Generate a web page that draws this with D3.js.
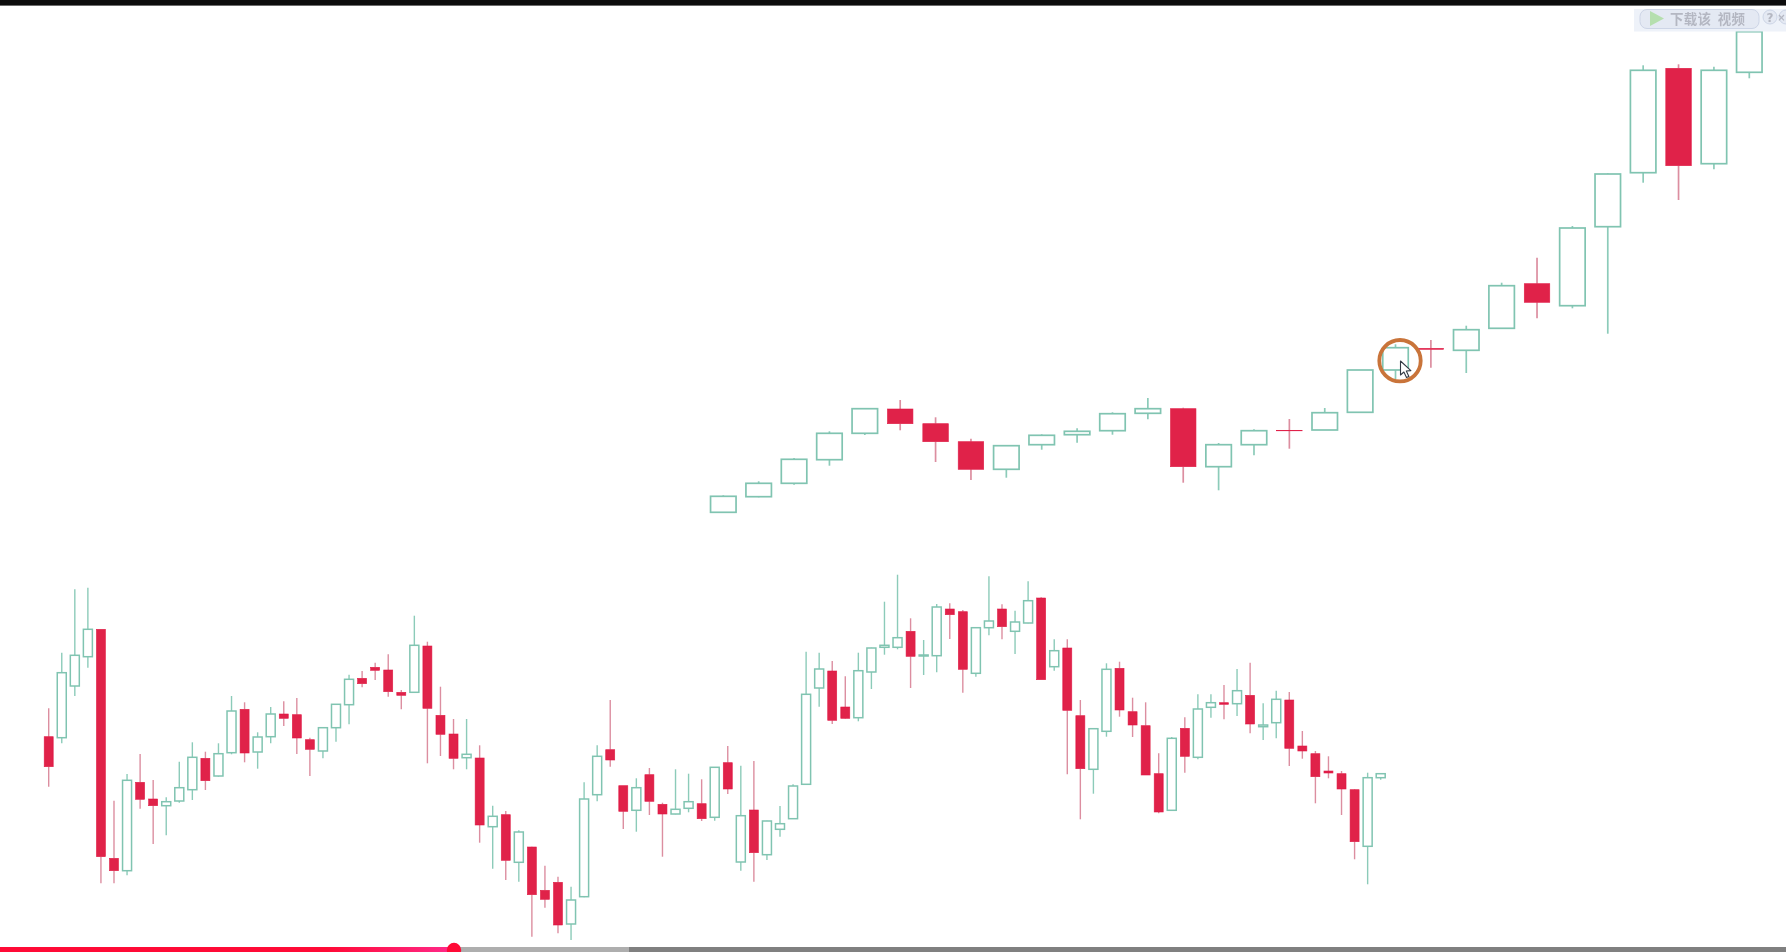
<!DOCTYPE html>
<html lang="zh">
<head>
<meta charset="utf-8">
<title>K线图</title>
<script src="https://cdn.jsdelivr.net/npm/d3@7/dist/d3.min.js"></script>
<style>
html,body{margin:0;padding:0;background:#fff;overflow:hidden}
svg{display:block}
</style>
</head>
<body>
<script>
// --- Lower candlestick series (g = hollow green, r = solid red) ---
const lowerKinds = "rgggrrgrrg" + "ggrggrggrr" + "rgggrrrrgr" + "rrgrgrgrrr" + "gggrrgrrgg" +
                   "rgrgrggggg" + "rrggggrggr" + "rggrggrgrr" + "ggrrrrgrgg" + "rgrggrrrrr" + "rgg";
const lowerHigh = [243.7,299.3,362.7,364.3,322.7,151.3,178,198,172,154.7,
  190.3,209.7,200.3,208.7,256,249.7,219.7,245,250.7,254,
  214.3,224.7,248,277.3,281,289.3,297.7,262,336.3,310.3,
  265.3,233,233,206.7,146.3,141,121.7,105.3,86.3,75.3,
  65.3,169.7,206.7,252,166.3,173.7,184,149.3,182.7,178.3,
  172.7,184.7,206,186.3,191,131.3,146,167.7,300.3,299.3,
  291,275.7,299.3,304.3,350.3,377.3,333.7,312,348,348.7,
  342,324.7,375.7,347.7,341.3,370.7,354.7,312.7,312.7,252,
  223.7,288.7,290.3,254.3,249.7,198.7,215,234.7,257.7,257.7,
  267,283,289.3,248.7,261.3,260,221,201,195.7,181,
  163,179.3,178.7];
const lowerBodyTop = [215.3,279.3,296.7,322.7,322.7,93.7,171.7,169.7,153,150.3,
  164.3,194.7,193.7,198.3,241,242.7,215,238,238,237.3,
  212.3,224.3,247.7,272.7,273.7,284.7,282,259.7,306.7,306,
  236.7,218,197.7,194,135.7,137.3,120,105,61.7,69.7,
  52,153,195.7,202.3,166.3,164.3,177.3,147.7,142.7,150.3,
  148.3,184.7,189.3,136.3,142,131,128.3,166,257.7,283,
  281,245,281.3,304,306.7,314.3,320.7,297,345,343,
  340.3,324.3,331,343,330,351.3,354,301.3,304,236.3,
  223.3,282.7,283.7,240.3,226.3,178.3,213.7,223.7,243,249.3,
  249.3,261.3,256.7,227,252.7,252,206,198.3,181,178.3,
  162.3,174.3,178.3];
const lowerBodyBottom = [185.3,214.3,266,295.3,95.3,81.3,81.3,152.7,146.3,146.3,
  151,162.3,171.3,176,199.3,199,200,215.3,233.7,214,
  202.7,201,224.3,247.3,268.3,281.7,260.3,256.7,259.7,243.7,
  217.7,193.7,194.3,127,125.3,91.7,89.7,57.3,52.7,27,
  28,55.3,157.3,192,140.7,141.7,150.7,138,138,143.7,
  133.3,134.7,163,90,99.3,97.3,122.7,133.3,167.7,264,
  231.7,233.7,234.3,280,304.7,304.7,295.7,296,296.3,337.3,
  282.7,278.7,324.3,325.3,320.7,329,272.3,285.3,241.7,183.3,
  182.7,220.7,242,227,177,140,141.7,195.7,194.7,244.7,
  247.7,248.3,228,225.3,229.3,203.7,201,175.3,179,163,
  110.3,105.7,174.3];
const lowerLow = [165.3,208.7,256,284.3,68.7,68.7,76.7,143.3,108,116.7,
  149.3,152,162,175.3,197.7,189.7,183.3,208.7,226,198,
  176,193.7,210.3,227.7,264.7,272,255.3,242.7,259.7,188.7,
  196,182.7,182.7,109.3,83.3,72,70.3,15.3,44.3,18.7,
  12,54.7,150.7,185.3,123,120.3,137,95.3,137.7,139.7,
  131,131.3,158,81.3,70.3,92,115.3,133.3,167.7,245.3,
  228,233.3,230.7,263,297.3,302.7,264,277,279.7,313,
  259.3,275.3,316.7,312.7,298,328.7,272.3,281.3,177.7,132.7,
  158.3,215.3,235.3,215,177,138.7,141.7,179.3,192.7,234.3,
  232.7,236,218.7,212,213.7,186,193.3,148.7,173.7,137,
  92.7,67.7,172.3];

// --- Upper candlestick series ---
const upperKinds = "gggggrrrgggggrggrgggrggrgggrgg";
const upperHigh = [456.7,470.7,494,520.7,544,552,534.7,513.3,506.3,517.7,
  523.7,539.7,554,544.3,509,522.7,533,544,582,607.7,
  612,626.3,669.3,694.3,726,778.7,886.7,887.7,885.3,920.3];
const upperBodyTop = [455.7,468.7,492.7,518.7,543.3,543,528.3,510.3,506.3,516.7,
  520.7,538.3,543.3,543.3,507.3,521.3,521.7,539.3,582,604.3,
  603.7,622.3,666.3,668.3,724,778,881.7,883.7,881.7,920.3];
const upperBodyBottom = [439.7,455.3,468.7,492.3,518.7,528.3,510.3,482.7,482.7,507.3,
  517.3,521.3,538.7,485.3,485.3,507.3,521.3,522,539.7,582,
  602.7,601.7,623.7,649.7,646.3,725.3,779.3,786.3,788.3,879.7];
const upperLow = [439.7,454.7,467.3,486.3,517,521.7,490,472,474.3,502.3,
  509.3,517.3,532.7,469.3,461.7,496.7,503.3,522,539.7,572.7,
  584.3,579,623.7,633.7,643.7,618.3,769.3,752,782.7,873.7];

const overlayLabel = "下载该 视频";

// --- Layout and style ---
const W = 1786, H = 952;
const GREEN = "#80c4b1", GREEN_WICK = "#8ccbb9", RED = "#e02048", RED_WICK = "#dc8ea0";

const svg = d3.select("body").append("svg").attr("width", W).attr("height", H).attr("viewBox", [0,0,W,H]);
const defs = svg.append("defs");
defs.append("filter").attr("id","soft").attr("x","-5%").attr("y","-5%").attr("width","110%").attr("height","110%")
  .append("feGaussianBlur").attr("stdDeviation",0.45);
const grad = defs.append("linearGradient").attr("id","played").attr("x1",0).attr("x2",1).attr("y1",0).attr("y2",0);
grad.append("stop").attr("offset","0.72").attr("stop-color","#ff0a36");
grad.append("stop").attr("offset","1").attr("stop-color","#ff2a8a");

svg.append("rect").attr("width",W).attr("height",H).attr("fill","#ffffff");

const y = d3.scaleLinear().domain([0, H]).range([H, 0]);

function candles(cfg) {
  const x = d3.scaleLinear().domain([0, cfg.kinds.length - 1]).range(cfg.xRange);
  const rows = Array.from(cfg.kinds, (k, i) => ({
    k, i, hi: cfg.high[i], top: cfg.top[i], bot: cfg.bottom[i], lo: cfg.low[i]
  }));
  const g = svg.append("g").attr("class", cfg.name).attr("filter","url(#soft)");
  const c = g.selectAll("g").data(rows).join("g");
  c.append("line").attr("x1", d => x(d.i)).attr("x2", d => x(d.i))
    .attr("y1", d => y(d.hi)).attr("y2", d => y(d.top))
    .attr("stroke", d => d.k === "g" ? GREEN_WICK : RED_WICK).attr("stroke-width", cfg.wick);
  c.append("line").attr("x1", d => x(d.i)).attr("x2", d => x(d.i))
    .attr("y1", d => y(d.bot)).attr("y2", d => y(d.lo))
    .attr("stroke", d => d.k === "g" ? GREEN_WICK : RED_WICK).attr("stroke-width", cfg.wick);
  c.append("rect")
    .attr("x", d => x(d.i) - cfg.body / 2)
    .attr("width", cfg.body)
    .attr("y", d => y(d.top))
    .attr("height", d => Math.max(0.5, y(d.bot) - y(d.top)))
    .attr("fill", d => d.k === "g" ? "#ffffff" : RED)
    .attr("stroke", d => d.k === "g" ? GREEN : RED)
    .attr("stroke-width", d => d.k === "g" ? cfg.stroke : 0.6);
}

candles({name:"lower", kinds:lowerKinds, high:lowerHigh, top:lowerBodyTop, bottom:lowerBodyBottom, low:lowerLow,
         xRange:[48.7,1380.7], body:9, stroke:1.5, wick:1.4});
candles({name:"upper", kinds:upperKinds, high:upperHigh, top:upperBodyTop, bottom:upperBodyBottom, low:upperLow,
         xRange:[723.3,1749.3], body:25.5, stroke:1.7, wick:1.7});

// Highlight circle and mouse pointer
svg.append("circle").attr("cx",1400).attr("cy",360.7).attr("r",20.7)
  .attr("fill","none").attr("stroke","#c9743a").attr("stroke-width",3.8);
svg.append("path").attr("transform","translate(1400.5,361)")
  .attr("d","M0,0 L0,14 L3.4,11 L6,16.5 L8.4,15.4 L5.8,10 L10.4,9.6 Z")
  .attr("fill","#fff").attr("stroke","#333a44").attr("stroke-width",1.1).attr("stroke-linejoin","round");

// Top black bar
svg.append("rect").attr("width",W).attr("height",5.6).attr("fill","#0d0d0d");

// Download overlay
const ov = svg.append("g").attr("class","overlay").attr("filter","url(#soft)");
ov.append("rect").attr("x",1634).attr("y",9).attr("width",152).attr("height",22.5).attr("fill","#eef2f9");
ov.append("rect").attr("x",1640).attr("y",9.5).attr("width",119).attr("height",19).attr("rx",7)
  .attr("fill","#e4e9f3").attr("stroke","#cdd5e6").attr("stroke-width",1);
ov.append("path").attr("d","M1650,11 L1664,18.5 L1650,26 Z").attr("fill","#b5dfae");
ov.append("text").attr("x",1670).attr("y",24).text(overlayLabel)
  .attr("font-family","'Noto Sans CJK SC'").attr("font-size",13.5).attr("font-weight",700)
  .attr("letter-spacing",0.3).attr("word-spacing",3).attr("fill","#b4b7c2");
ov.append("circle").attr("cx",1770).attr("cy",17).attr("r",7).attr("fill","#e4e9f3").attr("stroke","#cdd5e6");
ov.append("text").attr("x",1770).attr("y",21.5).attr("text-anchor","middle").text("?")
  .attr("font-family","'DejaVu Sans'").attr("font-size",12).attr("font-weight",700).attr("fill","#b4b7c2");
ov.append("circle").attr("cx",1786).attr("cy",17).attr("r",7).attr("fill","#e4e9f3").attr("stroke","#cdd5e6");
ov.append("text").attr("x",1781.5).attr("y",21).attr("text-anchor","middle").text("×")
  .attr("font-family","'DejaVu Sans'").attr("font-size",10).attr("font-weight",700).attr("fill","#b4b7c2");

// Video progress bar
const barY = 947, barH = 5;
svg.append("rect").attr("x",0).attr("y",barY).attr("width",W).attr("height",barH).attr("fill","#808080");
svg.append("rect").attr("x",0).attr("y",barY).attr("width",629).attr("height",barH).attr("fill","#aeaeae");
svg.append("rect").attr("x",0).attr("y",barY).attr("width",454).attr("height",barH).attr("fill","url(#played)");
svg.append("circle").attr("cx",454).attr("cy",950).attr("r",7.2).attr("fill","#ff0a36");
</script>
</body>
</html>
